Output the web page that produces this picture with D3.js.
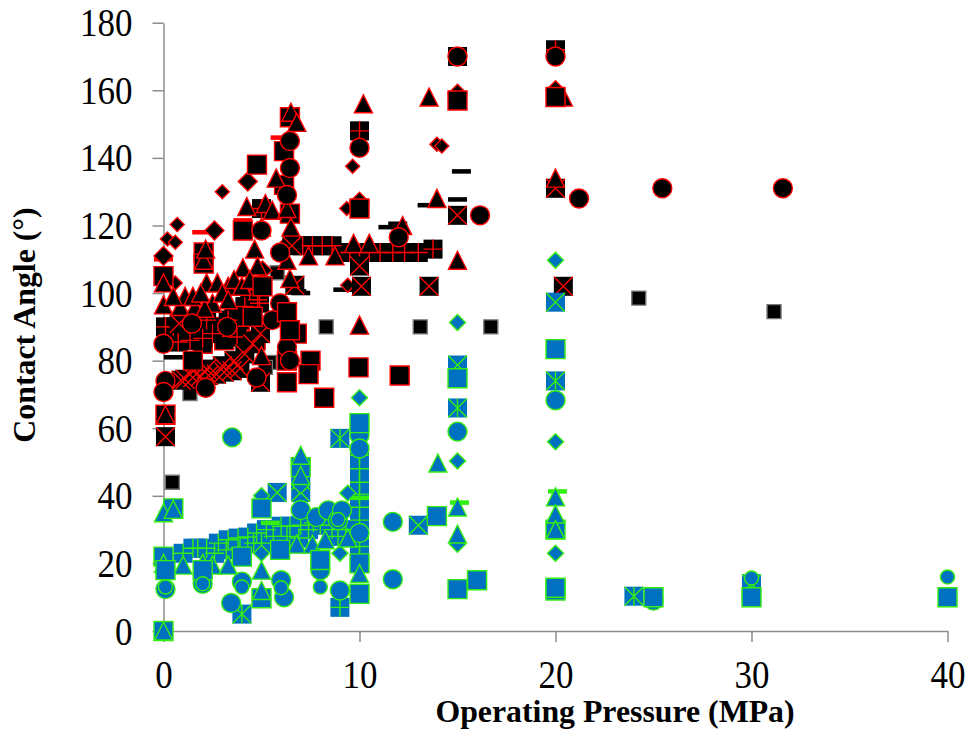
<!DOCTYPE html>
<meta charset="utf-8">
<style>
body { margin: 0; background: #fff; }
text { font-family: "Liberation Serif", "Times New Roman", serif; fill: #000; }
.axis path, .axis line { stroke: #8c8c8c; stroke-width: 1.5; }
.axis text { font-size: 35px; }
.title { font-size: 31.8px; font-weight: bold; }
</style>
<svg width="967" height="731"></svg>
<script src="https://cdn.jsdelivr.net/npm/d3@7"></script>
<script>

var xTicks = [0, 10, 20, 30, 40],
    yTicks = [0, 20, 40, 60, 80, 100, 120, 140, 160, 180];

// red outlined group, [pressure, angle]
var redBlackDash = [[13.45,126],[11.45,119.5],[11.95,120.5],[15.2,136],[15,127.7],[9.15,101],[7,100],[0.5,81],[6.8,100.5]];
var redColorDash = [[1.95,118],[4.05,121.5],[5.95,146],[0,110],[0.1,84],[2,85]];
var redPlain = [[0.45,44],[8.3,90],[13.1,90],[16.7,90],[24.25,98.5],[31.15,94.5],[1.35,70.3],[5.4,79.5],[5.8,106],[5.2,78]];
var redDiamond = [[0.7,120.3],[3,130],[9.65,137.5],[9.35,125],[13.95,144],[14.2,143.5],[0.2,116],[0.6,115],[0.6,103],[9.4,102.3]];
var redBigDiamond = [[2.6,118.5],[4.3,133],[0,111],[5.05,106.7],[15,159],[20,160],[10,127],[6.45,115]];
var redSquareBack = [[4.77,138],[6.45,152],[6.15,142],[6.15,132],[6.45,123.5],[4.05,118.5],[2.05,112],[2.05,108.7],[0,105],[3.1,86],[7.5,80],[7.4,76],[8.2,69],[9.95,78],[12.05,75.6],[0.1,64],[6.3,80],[2,85],[6.8,88],[3.9,92],[4.7,86],[1,88],[6.3,73.6],[3.6,93],[2.7,90],[1.8,90]];
var redPlus = [[15,170],[20,172],[10,148],[5,125],[0.1,90],[7.1,114],[7.6,114],[8.1,114],[8.6,114],[9.5,112],[10,112],[10.5,112],[11.05,112],[11.7,112],[12.3,112],[13,112],[13.75,113],[1.35,86],[2,86.6],[0.75,85.5],[4.15,96],[3.75,87],[0.5,90],[1.2,92],[2.5,88],[3.3,92],[4.8,98],[4.4,101],[4.9,97],[2.2,92]];
var redCross = [[0.9,74.2],[1.1,74.5],[1.5,75],[1.5,77],[1.9,75.3],[2.2,77.5],[2.3,75.6],[2.7,76],[3,78.5],[3.1,76.6],[3.5,77],[3.6,80],[3.9,77.7],[4.15,82],[4.55,85],[4.95,88],[4.95,73.6],[0.1,57.5],[10,108],[10.1,102],[13.55,102],[6.7,102.3],[15,123],[20,131],[20.4,102],[6.55,114],[0.8,91]];
var redTriangle = [[6.5,153.5],[6.8,150.5],[10.2,156],[13.55,158],[5.75,134],[4.25,125.6],[5.2,126.5],[5.55,124.5],[6.3,125],[6.5,119.5],[13.95,128],[12.2,120],[15,109.7],[10,90.5],[20,134],[20.4,158],[0,103],[0,96.5],[0.85,96],[2.05,109.7],[2.15,113],[2.2,103],[2.5,97],[1.6,95.8],[2.1,95.5],[3.3,102],[4.05,107.5],[4.65,113],[5,119.5],[6.3,109.7],[6.45,104.3],[7.4,111],[8.75,111],[9.7,114.7],[10.5,114.7],[5,81.5],[0.1,64],[1.1,99],[1.5,99],[2.75,103],[3.6,104],[4.8,108],[0.5,99],[1.9,100],[3,100],[3.3,98],[4,102],[4.4,104]];
var redCircle = [[10,143],[6.45,145],[6.45,137],[6.3,129],[5,118.5],[5.95,112],[12,116.5],[16.15,123],[21.2,128],[25.45,131],[31.6,131],[15,170],[20,170],[5.95,97],[5.55,92],[3.25,90],[1.45,91],[0,85],[0.1,74],[0,70.7],[2.15,72],[4.75,75],[6.3,84],[6.45,80]];
var redSquareTop = [[15,157],[20,158],[10,125],[5.05,102],[4.55,93],[6.3,94.3],[6.45,89],[1.5,80]];

// green outlined group
var blueDash = [[15.1,38],[20.1,41.3],[0,23.5],[5.45,32],[10,39.4],[10,27.8]];
var blueDiamond = [[20,109.7],[15,91.3],[10,69],[15,50.3],[20,56],[20,23],[15,25.7],[9,23],[5,23],[7,43],[9.4,40.8],[5,40]];
var blueCross = [[15,78.7],[20,97.3],[13,31.3],[5.8,41],[7,41],[7,44.5]];
var blueStar = [[15,66],[20,74],[24,10.3],[9,57],[4,5],[30,14]];
var bluePlus = [[1,23],[1.5,24.5],[1.75,24.5],[2.2,24.5],[2.6,23],[2.8,26],[3.2,24],[3.3,27],[3.8,27.5],[3.9,24.5],[4.3,27.8],[4.6,26],[4.75,29],[5,26],[5.25,30],[5.6,28],[6,31],[6.3,28],[6.45,31],[6.9,27.5],[7,31.3],[7.4,30],[7.65,32],[8,31.3],[8.6,30],[9.3,30],[10,48],[10,44],[10,40.5],[10,36.6],[10,32.8],[10,29],[10,25],[9,7],[10,22.5],[10,52],[8.9,28]];
var blueCircle = [[15,59],[20,68.3],[11.7,32.3],[11.7,15.3],[3.5,57.3],[25,9],[10,58],[10,54],[10,29],[7,35.8],[7.8,33.7],[8.4,35.7],[8.9,32.8],[9.1,35.7],[8,18],[9,12],[6,15],[6.15,10],[0.1,12.4],[2,14],[3.45,8.3],[4,14.6]];
var blueSmallCircle = [[40,16],[30,15.7],[8,13],[6,12.8],[0.1,13],[2,14],[4,13],[8.9,33]];
var blueSquareBack = [[0.5,36.3],[20,30],[0,0],[5,9.7],[0,22],[10,61.5],[10,20],[7,48.5],[20,83.4]];
var blueTriangle = [[14,49.7],[15,36.7],[15,28.7],[20,39.7],[20,34.6],[20,30],[0,35],[0.5,36],[0,0],[6.8,25.7],[7.6,25.7],[8.25,27],[9.4,27.5],[10,17],[1,19.5],[2.5,19.5],[3.3,19.5],[2,20],[0,20],[5,18],[5,12],[7,46],[7,52]];
var blueSquare = [[15,74.8],[13.95,34],[16,15],[15,12.4],[20,12],[20,12.8],[25,10],[30,10],[40,10],[0.1,18],[2,18],[4,22],[5,36.3],[5.95,24],[8,21],[10,11]];

var svg = d3.select("svg");

var x = d3.scaleLinear().domain([0, 40]).range([163.5, 947.5]),
    y = d3.scaleLinear().domain([0, 180]).range([631, 22.7]);

// marker shapes for d3.symbol, size is the square of the marker width
var lines = {
  cross: function(c, r) { c.moveTo(-r, -r); c.lineTo(r, r); c.moveTo(-r, r); c.lineTo(r, -r); },
  plus: function(c, r) { c.moveTo(-r, 0); c.lineTo(r, 0); c.moveTo(0, -r); c.lineTo(0, r); }
};
var shapes = {
  square: function(c, r) { c.rect(-r, -r, 2 * r, 2 * r); },
  circle: function(c, r) { c.moveTo(r, 0); c.arc(0, 0, r, 0, 2 * Math.PI); },
  diamond: function(c, r) { c.moveTo(0, -r); c.lineTo(r, 0); c.lineTo(0, r); c.lineTo(-r, 0); c.closePath(); },
  triangle: function(c, r) { c.moveTo(0, -r); c.lineTo(r, r); c.lineTo(-r, r); c.closePath(); },
  dash: function(c, r) { c.rect(-r, -r * 0.24, 2 * r, r * 0.48); },
  cross: lines.cross,
  plus: lines.plus,
  star: function(c, r) { lines.cross(c, r); c.moveTo(0, -r); c.lineTo(0, r); }
};

function symbolType(name) {
  return { draw: function(c, size) { shapes[name](c, Math.sqrt(size) / 2); } };
}

var red = {fill: "#000", line: "#ff0000"},
    blue = {fill: "#0070c0", line: "#33ee11"};

// painting order follows the chart
var series = [
  {data: redBlackDash, shape: "dash", w: 19, fill: "#000", stroke: "none"},
  {data: redColorDash, shape: "dash", w: 19, fill: "#ff0000", stroke: "none"},
  {data: redPlain, shape: "square", w: 14, fill: "#000", stroke: "#777"},
  {data: redDiamond, shape: "diamond", w: 14, c: red},
  {data: redBigDiamond, shape: "diamond", w: 19, c: red},
  {data: redSquareBack, shape: "square", w: 19, c: red},
  {data: redPlus, shape: "plus", w: 19, c: red, box: true},
  {data: redCross, shape: "cross", w: 19, c: red, box: true},
  {data: redTriangle, shape: "triangle", w: 18, c: red},
  {data: redCircle, shape: "circle", w: 19, c: red},
  {data: redSquareTop, shape: "square", w: 19, c: red},
  {data: bluePlus, shape: "plus", w: 19, c: blue, box: true},
  {data: blueDash, shape: "dash", w: 19, fill: "#33ee11", stroke: "none"},
  {data: blueCross, shape: "cross", w: 19, c: blue, box: true},
  {data: blueStar, shape: "star", w: 19, c: blue, box: true},
  {data: blueDiamond, shape: "diamond", w: 16, c: blue},
  {data: blueCircle, shape: "circle", w: 19, c: blue},
  {data: blueSquareBack, shape: "square", w: 19, c: blue},
  {data: blueTriangle, shape: "triangle", w: 18, c: blue},
  {data: blueSquare, shape: "square", w: 19, c: blue},
  {data: blueSmallCircle, shape: "circle", w: 14, c: blue}
];

var xAxis = svg.append("g")
    .attr("class", "axis")
    .attr("transform", "translate(0," + y(0) + ")")
    .call(d3.axisBottom(x).tickValues(xTicks).tickSize(11).tickSizeOuter(0).tickFormat(d3.format("d")));

var yAxis = svg.append("g")
    .attr("class", "axis")
    .attr("transform", "translate(" + x(0) + ",0)")
    .call(d3.axisLeft(y).tickValues(yTicks).tickSize(11).tickPadding(20).tickSizeOuter(0).tickFormat(d3.format("d")));

// reference text is a bit taller than the font
xAxis.selectAll("text")
    .attr("y", 50.5)
    .attr("dy", 0)
    .attr("transform", "scale(1,1.13)");
yAxis.selectAll("text")
    .attr("dy", "0.33em")
    .attr("transform", "scale(1,1.13)");

series.forEach(function(s) {
  var fill = s.c ? s.c.fill : s.fill,
      stroke = s.c ? s.c.line : s.stroke;
  var g = svg.append("g");

  g.selectAll("path")
    .data(s.data)
    .enter().append("path")
      .attr("transform", function(d) { return "translate(" + x(d[0]) + "," + y(d[1]) + ")"; })
      .attr("d", d3.symbol().type(symbolType(s.box ? "square" : s.shape)).size(s.w * s.w))
      .attr("fill", fill)
      .attr("stroke", s.box ? "none" : stroke)
      .attr("stroke-width", 1.4);

  if (s.box) {
    g.selectAll(".mark")
      .data(s.data)
      .enter().append("path")
        .attr("class", "mark")
        .attr("transform", function(d) { return "translate(" + x(d[0]) + "," + y(d[1]) + ")"; })
        .attr("d", d3.symbol().type(symbolType(s.shape)).size(s.w * s.w))
        .attr("fill", "none")
        .attr("stroke", stroke)
        .attr("stroke-width", 1.4);
  }
});

svg.append("text")
    .attr("class", "title")
    .attr("x", 615)
    .attr("y", 722)
    .attr("text-anchor", "middle")
    .text("Operating Pressure (MPa)");

svg.append("text")
    .attr("class", "title")
    .attr("transform", "translate(35,325) rotate(-90)")
    .attr("text-anchor", "middle")
    .text("Contact Angle (°)");

</script>
